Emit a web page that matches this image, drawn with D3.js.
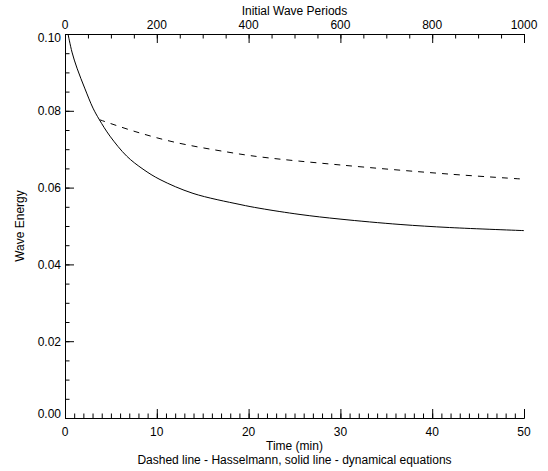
<!DOCTYPE html>
<html>
<head>
<meta charset="utf-8">
<script src="https://cdn.jsdelivr.net/npm/d3@7"></script>
<style>
  html, body { margin: 0; padding: 0; background: #fff; }
  text { font-family: "Liberation Sans", Arial, Helvetica, sans-serif; font-size: 12px; fill: #000; }
</style>
</head>
<body>
<svg id="chart" width="548" height="471"></svg>
<script>
// ---- data ----
const solidTime   = [0.33, 0.76, 1.31, 2.18, 3.05, 3.74, 4.90, 6.72, 8.50, 10.35, 13.94, 19.06, 21.24, 25.6, 29.96, 36.5, 41.9, 50.0];
const solidEnergy = [0.1000, 0.0953, 0.0911, 0.0857, 0.0807, 0.0777, 0.0734, 0.0682, 0.0648, 0.0621, 0.0585, 0.0556, 0.0546, 0.0530, 0.0518, 0.0504, 0.0496, 0.0488];
const dashedTime   = [3.74, 7.63, 11.98, 17.6, 21.24, 29.96, 41.94, 50.0];
const dashedEnergy = [0.0777, 0.0746, 0.0718, 0.0693, 0.0680, 0.0659, 0.0635, 0.0622];

const bottomTicks = [0, 10, 20, 30, 40, 50];
const topTicks = [0, 200, 400, 600, 800, 1000];
const leftTicks = [0.00, 0.02, 0.04, 0.06, 0.08, 0.10];

const xTitle = "Time (min)";
const topTitle = "Initial Wave Periods";
const yTitle = "Wave Energy";
const caption = "Dashed line - Hasselmann, solid line - dynamical equations";

// ---- layout ----
const L = 65, R = 524, T = 34, B = 418;
const svg = d3.select("#chart");

const x = d3.scaleLinear().domain([0, 50]).range([L, R]);
const xTop = d3.scaleLinear().domain([0, 1000]).range([L, R]);
const y = d3.scaleLinear().domain([0, 0.10]).range([B, T]);

const MAJ = 9, MIN = 4.5;

// bottom axis (ticks inward = up)
const gB = svg.append("g").attr("transform", `translate(0,${B})`);
gB.call(d3.axisTop(x).tickValues(d3.range(0, 51, 1)).tickFormat("").tickSize(MIN).tickSizeOuter(0));
gB.append("g").call(d3.axisTop(x).tickValues(bottomTicks).tickFormat("").tickSize(MAJ).tickSizeOuter(0));
bottomTicks.forEach(v => {
  gB.append("text").attr("x", x(v)).attr("y", 18).attr("text-anchor", "middle").text(d3.format("d")(v));
});

// top axis (ticks inward = down)
const gT = svg.append("g").attr("transform", `translate(0,${T})`);
gT.call(d3.axisBottom(xTop).tickValues(d3.range(0, 1001, 50)).tickFormat("").tickSize(MIN).tickSizeOuter(0));
gT.append("g").call(d3.axisBottom(xTop).tickValues(topTicks).tickFormat("").tickSize(MAJ).tickSizeOuter(0));
topTicks.forEach(v => {
  gT.append("text").attr("x", xTop(v)).attr("y", -5).attr("text-anchor", "middle").text(d3.format("d")(v));
});

// left axis (ticks inward = right)
const gL = svg.append("g").attr("transform", `translate(${L},0)`);
gL.call(d3.axisRight(y).tickValues(d3.range(0, 21).map(i => i * 0.005)).tickFormat("").tickSize(MIN).tickSizeOuter(0));
gL.append("g").call(d3.axisRight(y).tickValues(leftTicks).tickFormat("").tickSize(MAJ).tickSizeOuter(0));
leftTicks.forEach(v => {
  const cy = Math.max(T + 4, Math.min(B - 4, y(v)));
  gL.append("text").attr("x", -4).attr("y", cy).attr("dy", "0.36em")
    .attr("text-anchor", "end").text(d3.format(".2f")(v));
});

svg.selectAll(".domain").attr("stroke", "#000").attr("stroke-width", 1);
svg.selectAll(".tick line").attr("stroke", "#000").attr("stroke-width", 1);

// titles
svg.append("text").attr("x", (L + R) / 2).attr("y", 15).attr("text-anchor", "middle").text(topTitle);
svg.append("text").attr("x", (L + R) / 2).attr("y", 450).attr("text-anchor", "middle").text(xTitle);
svg.append("text").attr("x", (L + R) / 2).attr("y", 464).attr("text-anchor", "middle").text(caption);
svg.append("text").attr("transform", `translate(24,${(T + B) / 2}) rotate(-90)`)
  .attr("text-anchor", "middle").text(yTitle);

// lines
const line = d3.line().x(d => x(d[0])).y(d => y(d[1])).curve(d3.curveCatmullRom.alpha(0.5));
const solid = solidTime.map((t, i) => [t, solidEnergy[i]]);
const dashed = dashedTime.map((t, i) => [t, dashedEnergy[i]]);

svg.append("path").datum(solid).attr("d", line)
  .attr("fill", "none").attr("stroke", "#000").attr("stroke-width", 1);
svg.append("path").datum(dashed).attr("d", line)
  .attr("fill", "none").attr("stroke", "#000").attr("stroke-width", 1)
  .attr("stroke-dasharray", "6,6");
</script>
</body>
</html>
